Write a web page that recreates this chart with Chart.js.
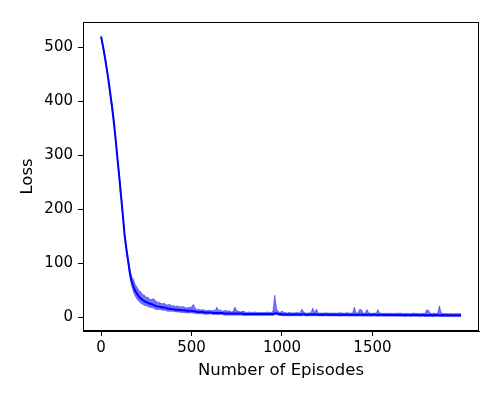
<!DOCTYPE html>
<html>
<head>
<meta charset="utf-8">
<script src="https://cdn.jsdelivr.net/npm/chart.js@4/dist/chart.umd.min.js"></script>
<style>
html,body{margin:0;padding:0;background:#fff;}
#wrap{width:500px;height:400px;position:relative;}
</style>
</head>
<body>
<div id="wrap"><canvas id="c" width="500" height="400"></canvas></div>
<script>
const episodes = [
0,10,20,30,40,50,60,70,80,90,
100,110,120,130,140,150,160,170,180,190,
200,210,220,230,240,250,260,270,280,290,
300,310,320,330,340,350,360,370,380,390,
400,410,420,430,440,450,460,470,480,490,
500,510,520,530,540,550,560,570,580,590,
600,610,620,630,640,650,660,670,680,690,
700,710,720,730,740,750,760,770,780,790,
800,810,820,830,840,850,860,870,880,890,
900,910,920,930,940,950,960,970,980,990,
1000,1010,1020,1030,1040,1050,1060,1070,1080,1090,
1100,1110,1120,1130,1140,1150,1160,1170,1180,1190,
1200,1210,1220,1230,1240,1250,1260,1270,1280,1290,
1300,1310,1320,1330,1340,1350,1360,1370,1380,1390,
1400,1410,1420,1430,1440,1450,1460,1470,1480,1490,
1500,1510,1520,1530,1540,1550,1560,1570,1580,1590,
1600,1610,1620,1630,1640,1650,1660,1670,1680,1690,
1700,1710,1720,1730,1740,1750,1760,1770,1780,1790,
1800,1810,1820,1830,1840,1850,1860,1870,1880,1890,
1900,1910,1920,1930,1940,1950,1960,1970,1980,1990
];
const meanLoss = [
520,503,484,463,441,416,391,363,331,296,
262,226,190,152,126,103,80,65,56,48,
43,38,35,32,30,28,27,25,24,23,
21,20,20,19,18,18,17,16,16,15,
15,14,14,14,13,13,13,12,12,12,
12,11,11,10,10,10,10,9,9,9,
9,9,8,8,8,8,8,8,7,7,
7,7,7,7,7,7,7,7,7,6,
6,6,6,6,6,6,6,6,6,6,
6,6,6,6,6,6,7,8,6,6,
5.5,5.2,5.6,5.0,5.3,5.1,5.4,5.0,5.2,5.3,
5.0,5.4,5.6,5.1,4.9,5.2,5.0,5.3,5.5,5.2,
5.0,4.8,5.1,4.9,5.2,5.0,4.8,5.0,4.7,5.0,
4.8,4.9,4.6,5.0,4.7,4.8,4.9,4.6,4.8,4.7,
4.9,4.6,4.8,4.9,4.7,4.5,4.8,4.6,4.7,4.5,
4.6,4.8,4.5,4.4,4.6,4.5,4.3,4.5,4.4,4.6,
4.3,4.4,4.2,4.5,4.3,4.1,4.4,4.2,4.0,4.3,
4.2,4.0,4.3,4.1,4.2,4.4,4.0,4.1,4.3,4.0,
4.1,3.9,4.2,4.0,3.8,4.1,4.3,4.0,3.9,4.1,
3.8,4.0,3.7,3.9,3.8,3.6,3.9,3.7,3.8,3.6
];
const upperDev = [
2,2,2,3,3,4,6,8,5,4,
4,4,4,4,5,6,8,10,13,12,
12,11,12,10,11,9,10,8,9,12,
10,8,8,7,7,8,6,7,8,6,
7,6,7,6,6,7,6,5,6,6,
7,13,6,4,5,4,4,5,3,4,
4,3,5,4,11,4,6,3,5,6,
4,5,3,4,12,5,4,3,4,5,
3,3,4,3,3,4,3,3,3,3,
3,3,4,3,3,5,34,8,4,3,
6,4,3,3,4,3,3,3,4,3,
3,10,4,3,3,3,3,12,3,10,
3,3,3,3,3,3,3,3,3,3,
3,3,4,3,3,3,4,3,3,3,
14,3,3,10,9,3,3,10,3,3,
3,3,3,10,3,3,3,3,3,3,
3,3,3,3,3,4,3,3,3,3,
3,3,3,4,3,3,3,3,3,3,
10,9,3,3,4,3,3,17,4,3,
3,3,3,3,3,3,3,3,3,3
];
const lowerDev = [
2,2,2,2,3,3,3,3,3,3,
3,3,3,3,4,5,6,8,10,10,
10,9,9,8,8,7,7,7,6,6,
6,6,5,5,5,5,5,5,5,4,
4,4,4,4,4,4,4,4,4,4,
3.5,3.5,3.5,3.5,3.5,3.5,3.5,3.5,3.5,3.5,
3,3,3,3,3,3,3,3,3,3,
3,3,3,3,3,3,3,3,3,3,
2.5,2.5,2.5,2.5,2.5,2.5,2.5,2.5,2.5,2.5,
2.5,2.5,2.5,2.5,2.5,2.5,2.5,2.5,2.5,2.5,
2.5,2.5,2.5,2.5,2.5,2.5,2.5,2.5,2.5,2.5,
2.5,2.5,2.5,2.5,2.5,2.5,2.5,2.5,2.5,2.5,
2.5,2.5,2.5,2.5,2.5,2.5,2.5,2.5,2.5,2.5,
2.5,2.5,2.5,2.5,2.5,2.5,2.5,2.5,2.5,2.5,
2.5,2.5,2.5,2.5,2.5,2.5,2.5,2.5,2.5,2.5,
2.5,2.5,2.5,2.5,2.5,2.5,2.5,2.5,2.5,2.5,
2.5,2.5,2.5,2.5,2.5,2.5,2.5,2.5,2.5,2.5,
2.5,2.5,2.5,2.5,2.5,2.5,2.5,2.5,2.5,2.5,
2.5,2.5,2.5,2.5,2.5,2.5,2.5,2.5,2.5,2.5,
2.5,2.5,2.5,2.5,2.5,2.5,2.5,2.5,2.5,2.5
];
const xTicks = [0, 500, 1000, 1500];
const yTicks = [0, 100, 200, 300, 400, 500];
const xLabel = "Number of Episodes";
const yLabel = "Loss";

const meanPts = episodes.map((e, i) => ({x: e, y: meanLoss[i]}));
const upPts = episodes.map((e, i) => ({x: e, y: meanLoss[i] + upperDev[i]}));
const loPts = episodes.map((e, i) => ({x: e, y: meanLoss[i] - lowerDev[i]}));

const FONT = "'DejaVu Sans', sans-serif";

const framePlugin = {
  id: 'frame',
  afterDraw(chart) {
    const a = chart.chartArea, ctx = chart.ctx;
    ctx.save();
    ctx.strokeStyle = '#000';
    ctx.lineWidth = 1;
    ctx.strokeRect(Math.round(a.left) + 0.5, Math.round(a.top) + 0.5,
      Math.round(a.right - a.left) - 1, Math.round(a.bottom - a.top) - 1);
    ctx.restore();
  }
};

new Chart(document.getElementById('c'), {
  type: 'line',
  data: {
    datasets: [
      {data: meanPts, borderColor: '#0000ff', borderWidth: 2, pointRadius: 0, fill: false, order: 0, tension: 0},
      {data: upPts, borderColor: 'rgba(0,0,255,0.5)', borderWidth: 0.8, pointRadius: 0,
       backgroundColor: 'rgba(0,0,255,0.55)', fill: '+1', order: 1, tension: 0},
      {data: loPts, borderColor: 'rgba(0,0,255,0.5)', borderWidth: 0.8, pointRadius: 0, fill: false, order: 1, tension: 0}
    ]
  },
  options: {
    responsive: false,
    animation: false,
    devicePixelRatio: 1,
    layout: {padding: {left: 18, right: 21, top: 22, bottom: 19}},
    plugins: {legend: {display: false}, tooltip: {enabled: false}},
    scales: {
      x: {
        type: 'linear', min: -100, max: 2089,
        afterBuildTicks: s => { s.ticks = xTicks.map(v => ({value: v})); },
        afterFit: s => { s.height = 50; },
        grid: {display: true, drawOnChartArea: false, drawTicks: true, tickLength: 5, color: '#000', tickWidth: 1},
        border: {display: true, color: '#000', width: 1},
        ticks: {color: '#000', font: {family: FONT, size: 15}, padding: 3, maxRotation: 0,
                callback: v => String(v)},
        title: {display: true, text: xLabel, color: '#000', font: {family: FONT, size: 16.5}, padding: {top: 0, bottom: 0}}
      },
      y: {
        type: 'linear', min: -25.4, max: 547,
        afterBuildTicks: s => { s.ticks = yTicks.map(v => ({value: v})); },
        afterFit: s => { s.width = 65; },
        grid: {display: true, drawOnChartArea: false, drawTicks: true, tickLength: 5, color: '#000', tickWidth: 1},
        border: {display: true, color: '#000', width: 1},
        ticks: {color: '#000', font: {family: FONT, size: 15}, padding: 5, callback: v => String(v)},
        title: {display: true, text: yLabel, color: '#000', font: {family: FONT, size: 16.5}, padding: {top: 0, bottom: 0}}
      }
    }
  },
  plugins: [framePlugin]
});
</script>
</body>
</html>
